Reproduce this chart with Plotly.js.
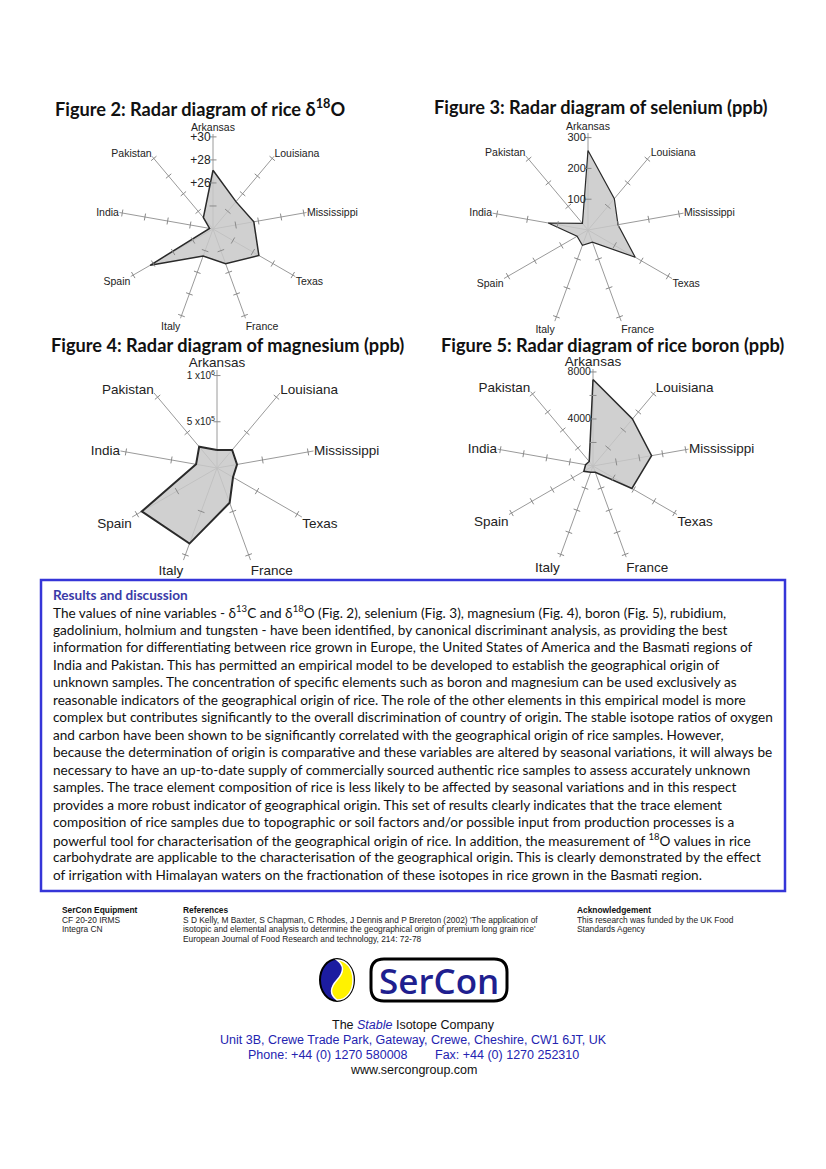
<!DOCTYPE html>
<html>
<head>
<meta charset="utf-8">
<script src="https://cdn.plot.ly/plotly-3.0.1.min.js"></script>
<style>
html,body{margin:0;padding:0;background:#fff;}
#chart{width:826px;height:1169px;}
</style>
</head>
<body>
<div id="chart"></div>
<script>
// ---------- DATA ----------
const regions = ["Arkansas","Louisiana","Mississippi","Texas","France","Italy","Spain","India","Pakistan"];

const oxygen18   = [27.1, 25.1, 25.6, 26.6, 25.2, 24.5, 28.3, 22.3, 23.3];
const selenium   = [258, 133, 99, 177, 42, 53, 41, 131, 28];
const magnesium  = [195000, 255000, 220000, 200000, 400000, 870000, 940000, 230000, 300000];
const boron      = [7360, 5220, 5060, 3820, 560, 560, 900, 640, 500];

const oxygenTicks    = [26, 28, 30];
const oxygenTickText = ["+26", "+28", "+30"];
const seleniumTicks  = [100, 200, 300];
const magnesiumTicks = [500000, 1000000];
const magnesiumTickText = ["5 x10<sup>5</sup>", "1 x10<sup>6</sup>"];
const boronTicks     = [4000, 8000];

const oxygenSpokeMarks    = [24, 26, 28, 30];
const seleniumSpokeMarks  = [100, 200, 300];
const magnesiumSpokeMarks = [500000, 1000000];
const boronSpokeMarks     = [2000, 4000, 6000, 8000];

const bodyLines = [
 "The values of nine variables - δ<sup>13</sup>C and δ<sup>18</sup>O (Fig. 2), selenium (Fig. 3), magnesium (Fig. 4), boron (Fig. 5), rubidium,",
 "gadolinium, holmium and tungsten - have been identified, by canonical discriminant analysis, as providing the best",
 "information for differentiating between rice grown in Europe, the United States of America and the Basmati regions of",
 "India and Pakistan. This has permitted an empirical model to be developed to establish the geographical origin of",
 "unknown samples. The concentration of specific elements such as boron and magnesium can be used exclusively as",
 "reasonable indicators of the geographical origin of rice. The role of the other elements in this empirical model is more",
 "complex but contributes significantly to the overall discrimination of country of origin. The stable isotope ratios of oxygen",
 "and carbon have been shown to be significantly correlated with the geographical origin of rice samples. However,",
 "because the determination of origin is comparative and these variables are altered by seasonal variations, it will always be",
 "necessary to have an up-to-date supply of commercially sourced authentic rice samples to assess accurately unknown",
 "samples. The trace element composition of rice is less likely to be affected by seasonal variations and in this respect",
 "provides a more robust indicator of geographical origin. This set of results clearly indicates that the trace element",
 "composition of rice samples due to topographic or soil factors and/or possible input from production processes is a",
 "powerful tool for characterisation of the geographical origin of rice. In addition, the measurement of <sup>18</sup>O values in rice",
 "carbohydrate are applicable to the characterisation of the geographical origin. This is clearly demonstrated by the effect",
 "of irrigation with Himalayan waters on the fractionation of these isotopes in rice grown in the Basmati region."
];

// ---------- HELPERS ----------
const W = 826, H = 1169;
function dom(cx, cy, R){
  return {x:[(cx-R)/W,(cx+R)/W], y:[1-(cy+R)/H, 1-(cy-R)/H]};
}
function closeLoop(a){ return a.concat([a[0]]); }

function radarTraces(sub, values, marks, lineW){
  const traces = [];
  traces.push({
    type:"scatterpolar", subplot:sub, mode:"lines",
    r: closeLoop(values), theta: closeLoop(regions),
    fill:"toself", fillcolor:"rgba(200,200,200,0.85)",
    line:{color:"#2a2a2a", width:lineW}, hoverinfo:"skip", showlegend:false
  });
  const mr=[], mt=[], ma=[];
  regions.forEach((reg,i)=>{
    marks.forEach(m=>{ mr.push(m); mt.push(reg); ma.push(i*40); });
  });
  traces.push({
    type:"scatterpolar", subplot:sub, mode:"markers",
    r:mr, theta:mt,
    marker:{symbol:"line-ew", size:5, angle:ma, line:{color:"#8a8a8a", width:1}},
    hoverinfo:"skip", showlegend:false
  });
  return traces;
}

function polarLayout(d, range, tickvals, ticktext, labelSize, tickSize){
  return {
    domain:d, bgcolor:"rgba(0,0,0,0)",
    angularaxis:{
      rotation:90, direction:"clockwise", categoryarray:regions, type:"category",
      showline:false, showgrid:true, gridcolor:"#9a9a9a", gridwidth:1, ticks:"",
      tickfont:{family:"Liberation Sans, Arial, sans-serif", size:labelSize, color:"#222"}
    },
    radialaxis:{
      range:range, angle:90, showgrid:false, showline:false,
      tickmode:"array", tickvals:tickvals, ticktext:ticktext, ticks:"",
      tickangle:90, side:"counterclockwise",
      tickfont:{family:"Liberation Sans, Arial, sans-serif", size:tickSize, color:"#222"}
    }
  };
}

// ---------- TRACES ----------
let data = [];
data = data.concat(radarTraces("polar", oxygen18, oxygenSpokeMarks, 1.5));
data = data.concat(radarTraces("polar2", selenium, seleniumSpokeMarks, 1.2));
data = data.concat(radarTraces("polar3", magnesium, magnesiumSpokeMarks, 2));
data = data.concat(radarTraces("polar4", boron, boronSpokeMarks, 1.5));

// ---------- ANNOTATIONS ----------
const ann = [];
function txt(x,y,text,opts){
  ann.push(Object.assign({x:x,y:y,xref:"x",yref:"y",text:text,showarrow:false,
    xanchor:"left",yanchor:"middle",
    font:{family:"Lato, sans-serif",size:14,color:"#111"}},opts||{}));
}
const titleFont = {family:"Lato, sans-serif", size:18.2, color:"#111", weight:700};
txt(200,107,"Figure 2: Radar diagram of rice δ<sup>18</sup>O",{xanchor:"center",font:titleFont});
txt(600,107,"Figure 3: Radar diagram of selenium (ppb)",{xanchor:"center",font:titleFont});
txt(227,345,"Figure 4: Radar diagram of magnesium (ppb)",{xanchor:"center",font:titleFont});
txt(612,345,"Figure 5: Radar diagram of rice boron (ppb)",{xanchor:"center",font:titleFont});

txt(51,595,"Results and discussion",{font:{family:"Lato, sans-serif",size:13.6,color:"#3a3aa8",weight:700}});
bodyLines.forEach((l,i)=>{
  txt(51, 612 + i*17.53, l, {font:{family:"Lato, sans-serif",size:13.6,color:"#111"}});
});

const smallF = {family:"Liberation Sans, Arial, sans-serif", size:8.4, color:"#222"};
const smallB = {family:"Liberation Sans, Arial, sans-serif", size:8.4, color:"#111", weight:700};
txt(60,910,"SerCon Equipment",{font:smallB});
txt(60,919.5,"CF 20-20 IRMS",{font:smallF});
txt(60,929,"Integra CN",{font:smallF});
txt(181,910,"References",{font:smallB});
txt(181,919.5,"S D Kelly, M Baxter, S Chapman, C Rhodes, J Dennis and P Brereton (2002) 'The application of",{font:smallF});
txt(181,929,"isotopic and elemental analysis to determine the geographical origin of premium long grain rice'",{font:smallF});
txt(181,938.5,"European Journal of Food Research and technology, 214: 72-78",{font:smallF});
txt(575,910,"Acknowledgement",{font:smallB});
txt(575,919.5,"This research was funded by the UK Food",{font:smallF});
txt(575,929,"Standards Agency",{font:smallF});

txt(439,980,"SerCon",{xanchor:"center",font:{family:"Open Sans, sans-serif",size:35,color:"#1f1f8f",weight:600}});

const addrF = {family:"Liberation Sans, Arial, sans-serif", size:12.5, color:"#2424b0"};
txt(413,1025,"The <i><span style='color:#2424b0'>Stable</span></i> Isotope Company",{xanchor:"center",font:{family:"Liberation Sans, Arial, sans-serif",size:12.5,color:"#111"}});
txt(413,1040,"Unit 3B, Crewe Trade Park, Gateway, Crewe, Cheshire, CW1 6JT, UK",{xanchor:"center",font:addrF});
txt(246,1055,"Phone: +44 (0) 1270 580008",{font:addrF});
txt(433,1055,"Fax: +44 (0) 1270 252310",{font:addrF});
txt(413,1070,"www.sercongroup.com",{xanchor:"center",font:{family:"Liberation Sans, Arial, sans-serif",size:12.5,color:"#111"}});

// ---------- SHAPES ----------
const shapes = [
  {type:"rect", xref:"x", yref:"y", x0:41, x1:785, y0:580, y1:891, line:{color:"#3535d8", width:2.5}, fillcolor:"rgba(0,0,0,0)"},
  {type:"circle", xref:"x", yref:"y", x0:320, x1:354, y0:959, y1:1001, fillcolor:"#1c1ca0", line:{color:"#000", width:2}},
  {type:"path", xref:"x", yref:"y",
   path:"M 337 960 C 347 960 353 969 353 980 C 353 991 347 1000 337 1000 Q 326 992 337 980 Q 348 968 337 960 Z",
   fillcolor:"#fff200", line:{color:"#fff", width:1.5}},
  {type:"path", xref:"x", yref:"y",
   path:"M 384 959 L 494 959 Q 507 959 507 972 L 507 988 Q 507 1001 494 1001 L 384 1001 Q 371 1001 371 988 L 371 972 Q 371 959 384 959 Z",
   fillcolor:"#fff", line:{color:"#000", width:3}, layer:"below"}
];

// ---------- LAYOUT ----------
const layout = {
  width:W, height:H, margin:{l:0,r:0,t:0,b:0},
  paper_bgcolor:"#fff", plot_bgcolor:"rgba(0,0,0,0)", showlegend:false,
  xaxis:{range:[0,W], visible:false, fixedrange:true, domain:[0,1]},
  yaxis:{range:[H,0], visible:false, fixedrange:true, domain:[0,1]},
  polar:  polarLayout(dom(213,229,95), [22,30.25], oxygenTicks, oxygenTickText, 10.5, 12),
  polar2: polarLayout(dom(588,230,97), [0,315], seleniumTicks, seleniumTicks.map(String), 10.5, 11),
  polar3: polarLayout(dom(217,468,98), [0,1060000], magnesiumTicks, magnesiumTickText, 13.5, 10),
  polar4: polarLayout(dom(593,466,97), [0,8250], boronTicks, boronTicks.map(String), 13.5, 10.5),
  annotations:ann, shapes:shapes
};

data.push({type:"scatter", x:[0], y:[0], mode:"markers", marker:{opacity:0}, hoverinfo:"skip", showlegend:false});

Plotly.newPlot("chart", data, layout, {staticPlot:true, displayModeBar:false});
</script>
</body>
</html>
